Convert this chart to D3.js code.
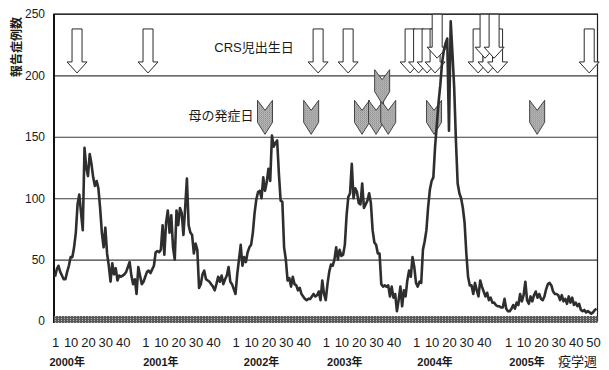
<!DOCTYPE html>
<html>
<head>
<meta charset="utf-8">
<script src="https://cdn.jsdelivr.net/npm/d3@7"></script>
<style>
  body { margin: 0; background: #fff; }
  text { font-family: "Liberation Sans", Arial, "Noto Sans CJK JP", sans-serif; fill: #1a1a1a; }
</style>
</head>
<body>
<div id="chart"></div>
<script>
// weekly reported cases, one array per year
const years = [2000, 2001, 2002, 2003, 2004, 2005];
const weeksPerYear = [52, 52, 52, 52, 53, 52];
const weekTicks = [1, 10, 20, 30, 40];
const lastYearTicks = [1, 10, 20, 30, 40, 50];
const yearLabelWeek = [8, 10, 16, 12, 12, 12];
const yTicks = [0, 50, 100, 150, 200, 250];

const cases2000 = [36, 42, 45, 40, 37, 34, 34, 40, 45, 52, 52, 60, 72, 95, 103, 88, 74, 141, 125, 118,
  136, 128, 117, 110, 114, 108, 92, 72, 60, 76, 55, 45, 32, 47, 38, 43, 33, 37, 36, 37,
  38, 40, 44, 48, 37, 30, 34, 22, 44, 37, 30, 32];
const cases2001 = [36, 40, 41, 39, 42, 45, 56, 57, 56, 58, 78, 54, 80, 90, 72, 86, 60, 50, 90, 78,
  92, 88, 70, 92, 116, 78, 72, 70, 55, 63, 58, 27, 30, 38, 41, 34, 33, 32, 30, 28,
  25, 30, 36, 32, 37, 30, 34, 37, 44, 32, 30, 26];
const cases2002 = [22, 38, 50, 62, 45, 52, 48, 56, 60, 62, 72, 88, 99, 105, 106, 100, 117, 106, 113, 124,
  114, 151, 142, 145, 147, 120, 98, 97, 60, 50, 33, 35, 28, 36, 30, 29, 25, 27, 22, 20,
  18, 17, 18, 18, 20, 22, 20, 21, 24, 17, 33, 22];
const cases2003 = [17, 30, 40, 46, 45, 50, 60, 50, 58, 53, 54, 62, 86, 101, 104, 128, 100, 108, 105, 96,
  95, 112, 92, 95, 98, 104, 96, 74, 64, 62, 55, 55, 30, 28, 29, 28, 29, 20, 28, 19,
  22, 8, 17, 28, 12, 25, 20, 33, 41, 36, 52, 44];
const cases2004 = [31, 28, 32, 31, 58, 65, 74, 93, 107, 114, 117, 142, 160, 178, 192, 210, 220, 226, 230, 155,
  244, 218, 190, 147, 112, 104, 100, 92, 80, 55, 36, 29, 29, 22, 31, 25, 20, 33, 28, 24,
  20, 23, 17, 19, 15, 15, 13, 12, 12, 11, 11, 18, 10];
const cases2005 = [8, 8, 10, 13, 10, 15, 13, 22, 16, 21, 32, 17, 14, 20, 16, 21, 24, 19, 22, 18,
  17, 20, 26, 30, 31, 29, 24, 22, 22, 21, 17, 21, 16, 18, 14, 20, 15, 19, 13, 15,
  12, 14, 9, 8, 9, 7, 8, 7, 6, 7, 9, 10];

// CRS births (white arrows): week index from 2000 wk1, and tip level in cases
const birthWeeks = [12.7, 53.6, 151.6, 168.9, 204.6, 209.5, 214.4, 219, 220.2, 243.8, 249.5, 255, 247.8, 253, 307.8];
const birthTips = [202, 202, 202, 202, 202, 202, 202, 202, 214, 202, 202, 202, 214, 214, 202];

// maternal onset (hatched chevrons)
const motherWeeks = [121, 147.6, 176.9, 185, 192, 218.4, 277.8, 188.5];
const motherTips = [152, 152, 152, 152, 152, 152, 152, 177];

const outerWidth = 609;
const outerHeight = 370;

const series = [].concat(cases2000, cases2001, cases2002, cases2003, cases2004, cases2005)
  .map((v, i) => ({week: i, value: v}));
const yearStart = d3.cumsum([0].concat(weeksPerYear.slice(0, -1)));

const svg = d3.select('#chart')
  .append('svg')
  .attr('width', outerWidth)
  .attr('height', outerHeight);

const defs = svg.append('defs');
const hatch = defs.append('pattern')
  .attr('id', 'hatch')
  .attr('width', 2).attr('height', 2)
  .attr('patternUnits', 'userSpaceOnUse');
hatch.append('rect').attr('width', 2).attr('height', 2).attr('fill', '#d4d4d4');
hatch.append('rect').attr('width', 1).attr('height', 1).attr('fill', '#6e6e6e');
hatch.append('rect').attr('x', 1).attr('y', 1).attr('width', 1).attr('height', 1).attr('fill', '#8a8a8a');

const band = defs.append('pattern')
  .attr('id', 'band')
  .attr('width', 3).attr('height', 2)
  .attr('patternUnits', 'userSpaceOnUse');
band.append('rect').attr('width', 3).attr('height', 2).attr('fill', '#5a5a5a');
band.append('rect').attr('x', 1).attr('width', 1).attr('height', 1).attr('fill', '#b5b5b5');

const x = d3.scaleLinear()
  .domain([0, d3.sum(weeksPerYear) - 1])
  .range([55, 596.5]);

const y = d3.scaleLinear()
  .domain([0, 250])
  .range([321, 14]);

const plotLeft = 54;
const plotRight = 597.5;

// grid lines
svg.append('g')
  .attr('transform', 'translate(' + plotLeft + ',0)')
  .call(d3.axisLeft(y).tickValues(yTicks.slice(1)).tickSize(-(plotRight - plotLeft)).tickFormat(''))
  .call(g => g.select('.domain').remove())
  .call(g => g.selectAll('line').attr('stroke', '#3c3c3c').attr('stroke-width', 1.1));

// y tick labels
svg.append('g')
  .attr('transform', 'translate(' + plotLeft + ',0)')
  .call(d3.axisLeft(y).tickValues(yTicks).tickSize(0).tickPadding(9))
  .call(g => g.select('.domain').remove())
  .call(g => g.selectAll('text').attr('font-size', '12px').attr('fill', '#1a1a1a'));

// frame
svg.append('rect')
  .attr('x', plotLeft)
  .attr('y', y(250))
  .attr('width', plotRight - plotLeft)
  .attr('height', y(0) - y(250))
  .attr('fill', 'none')
  .attr('stroke', '#222')
  .attr('stroke-width', 1.2);
svg.append('line')
  .attr('x1', plotLeft).attr('x2', plotLeft)
  .attr('y1', y(250)).attr('y2', y(0) + 2)
  .attr('stroke', '#111')
  .attr('stroke-width', 2);

// bottom band
svg.append('rect')
  .attr('x', plotLeft)
  .attr('y', y(0) - 5)
  .attr('width', plotRight - plotLeft)
  .attr('height', 7)
  .attr('fill', 'url(#band)');

// birth arrows
const arrowPath = 'M-5,-44L5,-44L5,-11L10,-11L0,0L-10,-11L-5,-11Z';
svg.append('g')
  .selectAll('path')
  .data(birthWeeks.map((w, i) => ({week: w, tip: birthTips[i]})))
  .enter()
  .append('path')
  .attr('d', arrowPath)
  .attr('transform', d => 'translate(' + x(d.week) + ',' + y(d.tip) + ')')
  .attr('fill', '#fff')
  .attr('stroke', '#2a2a2a')
  .attr('stroke-width', 1)
  .attr('stroke-linejoin', 'miter');

// maternal onset chevrons
const chevronPath = 'M-7.5,-34L0,-24L7.5,-34L7.5,-12L0,0L-7.5,-12Z';
svg.append('g')
  .selectAll('path')
  .data(motherWeeks.map((w, i) => ({week: w, tip: motherTips[i]})))
  .enter()
  .append('path')
  .attr('d', chevronPath)
  .attr('transform', d => 'translate(' + x(d.week) + ',' + y(d.tip) + ')')
  .attr('fill', 'url(#hatch)')
  .attr('stroke', '#333')
  .attr('stroke-width', 0.9);

// annotation labels
svg.append('text')
  .attr('x', 254).attr('y', 47)
  .attr('dy', '0.35em')
  .attr('text-anchor', 'middle')
  .attr('font-size', '13px')
  .text('CRS児出生日');
svg.append('text')
  .attr('x', 221).attr('y', 115)
  .attr('dy', '0.35em')
  .attr('text-anchor', 'middle')
  .attr('font-size', '13px')
  .text('母の発症日');

// data line
const line = d3.line()
  .x(d => x(d.week))
  .y(d => y(d.value));

svg.append('path')
  .datum(series)
  .attr('fill', 'none')
  .attr('stroke', '#2e2e2e')
  .attr('stroke-width', 2.6)
  .attr('stroke-linejoin', 'round')
  .attr('d', line);

// week tick labels
const tickIdx = [];
const tickText = [];
years.forEach((yr, k) => {
  const ticks = k === years.length - 1 ? lastYearTicks : weekTicks;
  ticks.forEach(w => {
    tickIdx.push(yearStart[k] + w - 1);
    tickText.push(String(w));
  });
});

svg.append('g')
  .attr('transform', 'translate(0,338)')
  .call(d3.axisBottom(x).tickValues(tickIdx).tickSize(0).tickPadding(0)
    .tickFormat((d, i) => tickText[i]))
  .call(g => g.select('.domain').remove())
  .call(g => g.selectAll('text').attr('font-size', '13px').attr('fill', '#1a1a1a'));

// year labels
svg.append('g')
  .selectAll('text')
  .data(years)
  .enter()
  .append('text')
  .attr('x', (d, k) => x(yearStart[k] + yearLabelWeek[k] - 1))
  .attr('y', 366)
  .attr('text-anchor', 'middle')
  .attr('font-size', '11px')
  .attr('font-weight', 'bold')
  .text(d => d + '年');

svg.append('text')
  .attr('x', 597).attr('y', 366)
  .attr('text-anchor', 'end')
  .attr('font-size', '13px')
  .text('疫学週');

// y axis title
svg.append('text')
  .attr('transform', 'translate(17,47) rotate(-90)')
  .attr('dy', '0.35em')
  .attr('text-anchor', 'middle')
  .attr('font-size', '12px')
  .attr('font-weight', 'bold')
  .text('報告症例数');
</script>
</body>
</html>
